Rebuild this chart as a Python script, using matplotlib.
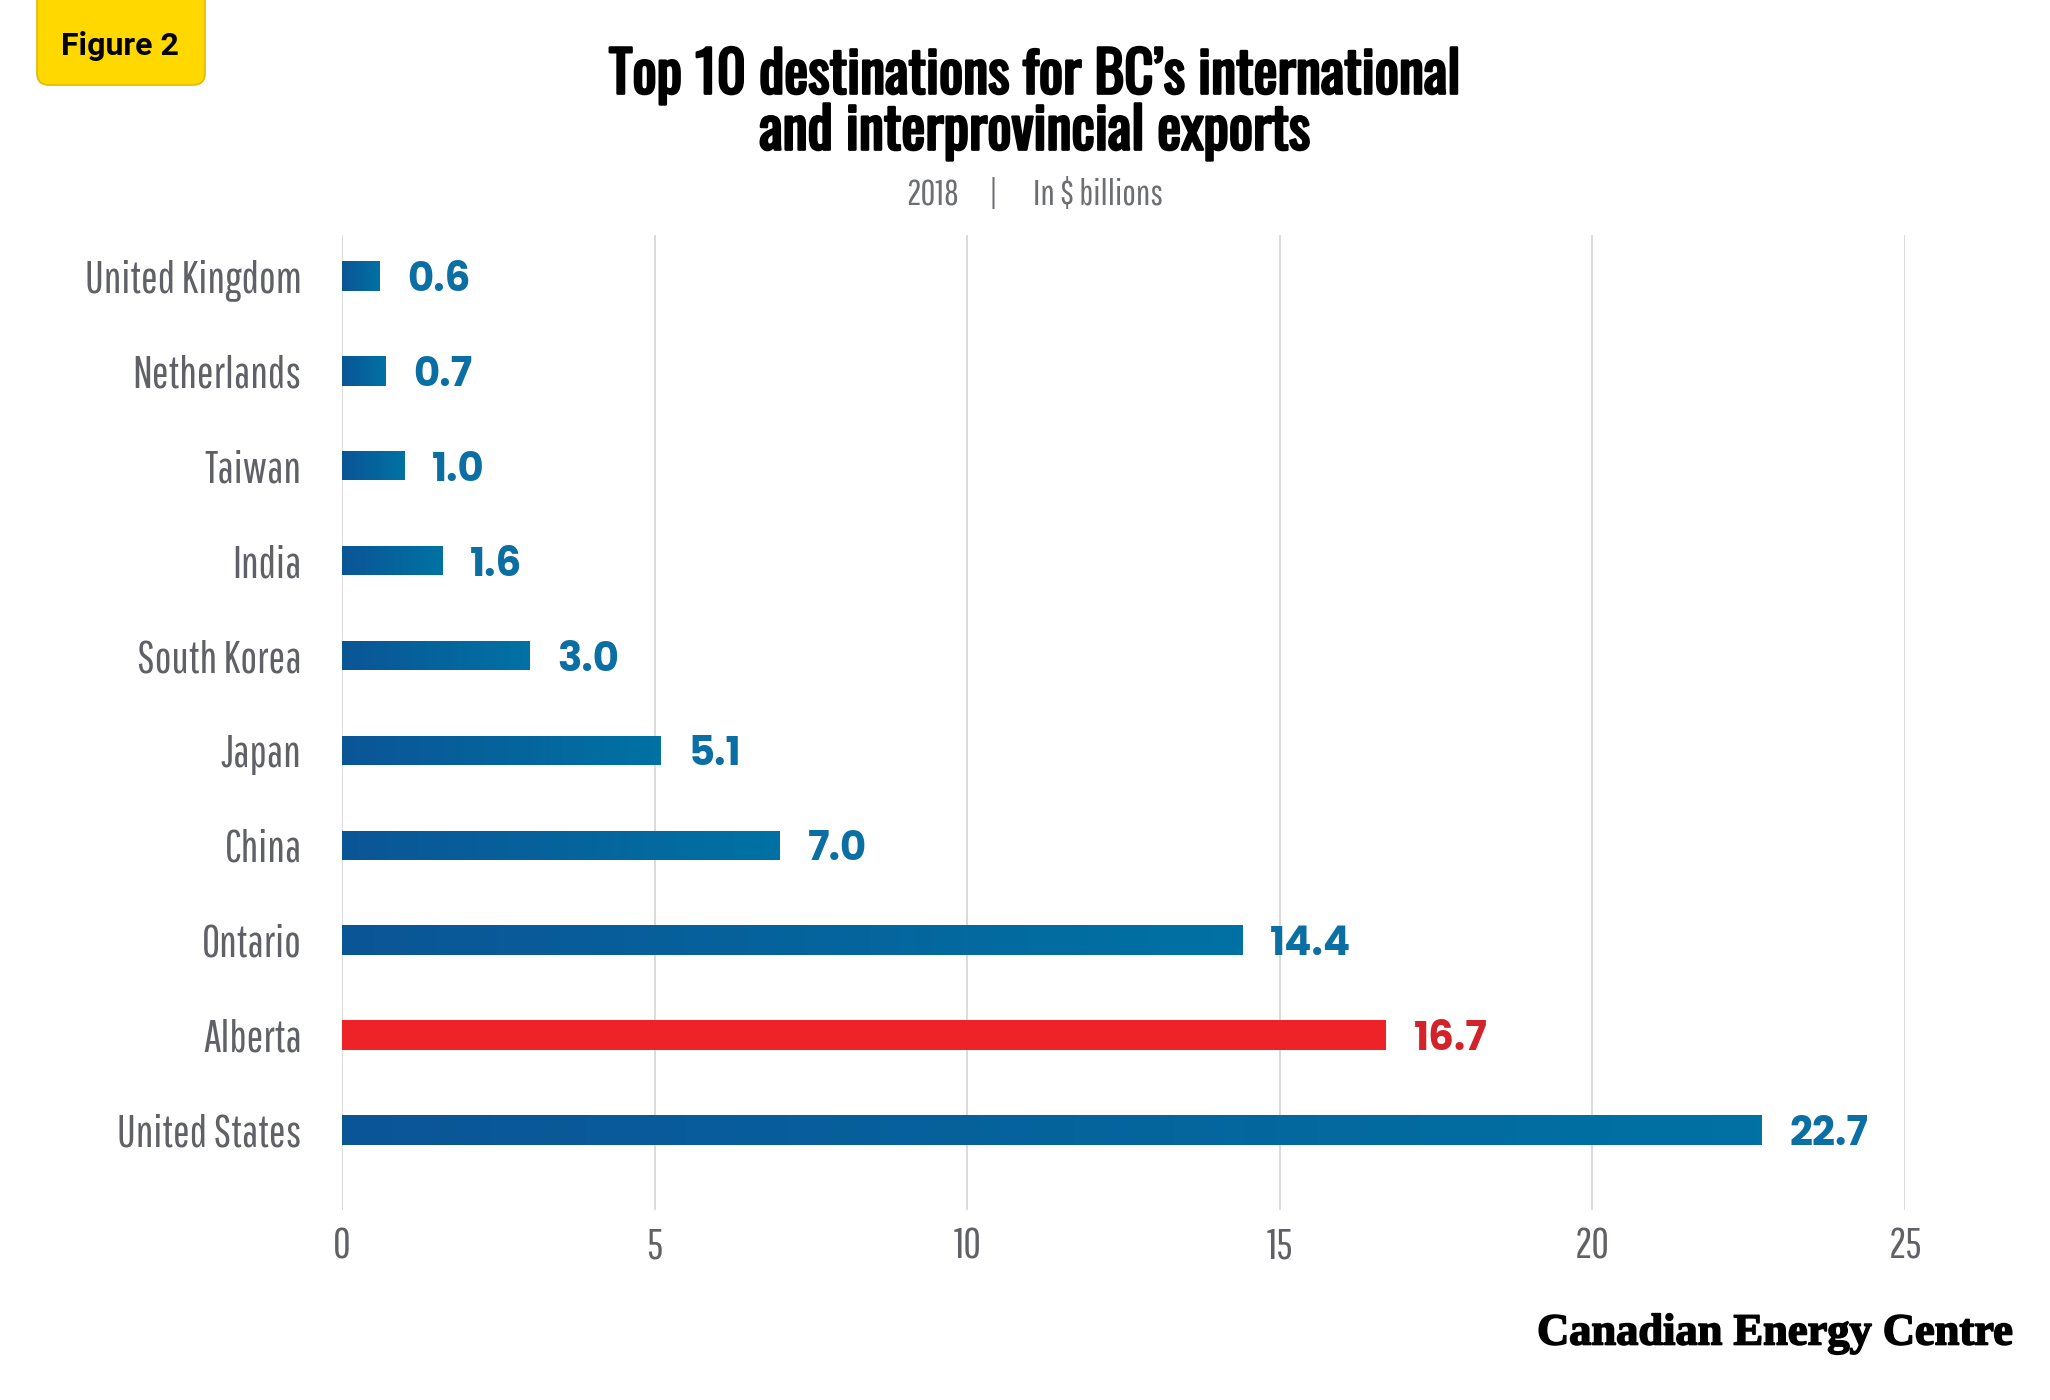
import numpy as np
import matplotlib
matplotlib.use('Agg')
import matplotlib.pyplot as plt
import matplotlib.patheffects as pe
from matplotlib.colors import LinearSegmentedColormap
from matplotlib.patches import FancyBboxPatch

# data
countries = ['United States', 'Alberta', 'Ontario', 'China', 'Japan',
             'South Korea', 'India', 'Taiwan', 'Netherlands', 'United Kingdom']
values = [22.7, 16.7, 14.4, 7.0, 5.1, 3.0, 1.6, 1.0, 0.7, 0.6]
highlight = 'Alberta'
xticks = [0, 5, 10, 15, 20, 25]

NARROW = ['Pathway Gothic One', 'Barlow Condensed', 'DejaVu Sans']
TITLE = ['Oswald', 'Roboto Condensed', 'DejaVu Sans']
BOLDNUM = ['Poppins', 'Lato', 'DejaVu Sans']
BADGE = ['Roboto', 'DejaVu Sans']
SERIF = ['Liberation Serif', 'DejaVu Serif']

BLUE_TXT = '#0b6fa4'
RED = '#ed2327'
RED_TXT = '#d2232a'
GREY = '#606166'

fig = plt.figure(figsize=(20.5, 14), dpi=100)
ax = fig.add_axes([0.1668, 0.136, 0.7625, 0.696])

# bars fade from a deeper blue on the left to a lighter blue at the tip
cmap = LinearSegmentedColormap.from_list('bcblue', ['#0b5596', '#0072a3'])
grad = np.linspace(0, 1, 256).reshape(1, -1)

ypos = np.arange(len(countries))
bar_h = 0.31
for y, name, v in zip(ypos, countries, values):
    if name == highlight:
        ax.barh(y, v, height=bar_h, color=RED, zorder=3)
        col = RED_TXT
    else:
        bar = ax.barh(y, v, height=bar_h, color='#0068a0', zorder=3)[0]
        im = ax.imshow(grad, cmap=cmap, aspect='auto', zorder=4,
                       extent=[0, v, y - bar_h / 2, y + bar_h / 2])
        im.set_clip_path(bar)
        col = BLUE_TXT
    ax.annotate(f'{v:.1f}', xy=(v, y), xytext=(20, 0), textcoords='offset points',
                ha='left', va='center_baseline', color=col, fontsize=29,
                fontweight='bold', family=BOLDNUM, zorder=5)

ax.set_xlim(0, 25)
ax.set_ylim(-0.84, 9.43)
ax.set_xticks(xticks)
ax.set_xticklabels([str(t) for t in xticks], family=NARROW, fontsize=31, color=GREY)
ax.set_yticks(ypos)
ax.set_yticklabels(countries, family=NARROW, fontsize=32, color=GREY)
ax.tick_params(axis='both', length=0)
ax.tick_params(axis='x', pad=12)
ax.tick_params(axis='y', pad=29)
ax.grid(axis='x', color='#dadada', linewidth=1.4, zorder=0)
ax.set_axisbelow(True)
for s in ax.spines.values():
    s.set_visible(False)

# title block
heavy = [pe.withStroke(linewidth=1.8, foreground='black')]
fig.text(0.505, 0.946, "Top 10 destinations for BC\u2019s international",
         ha='center', va='center', fontsize=41, fontweight='bold', family=TITLE,
         path_effects=heavy)
fig.text(0.505, 0.906, "and interprovincial exports",
         ha='center', va='center', fontsize=41, fontweight='bold', family=TITLE,
         path_effects=heavy)
fig.text(0.455, 0.861, '2018', ha='center', va='center', fontsize=26,
         color='#6d6e71', family=NARROW)
fig.text(0.4845, 0.861, '|', ha='center', va='center', fontsize=28,
         color='#6d6e71', family=NARROW)
fig.text(0.5355, 0.861, 'In $ billions', ha='center', va='center', fontsize=26,
         color='#6d6e71', family=NARROW)

# figure badge
badge = FancyBboxPatch((0.37, 13.15), 1.68, 1.1,
                       boxstyle='round,pad=0,rounding_size=0.12',
                       transform=fig.dpi_scale_trans, facecolor='#ffd800',
                       edgecolor='#e2b900', linewidth=1.2)
fig.patches.append(badge)
fig.text(0.0585, 0.967, 'Figure 2', ha='center', va='center', fontsize=23,
         fontweight='bold', family=BADGE)

fig.text(0.982, 0.0475, 'Canadian Energy Centre', ha='right', va='center',
         fontsize=32, fontweight='bold', family=SERIF,
         path_effects=[pe.withStroke(linewidth=1.2, foreground='black')])

fig.savefig('out.png', dpi=100)
